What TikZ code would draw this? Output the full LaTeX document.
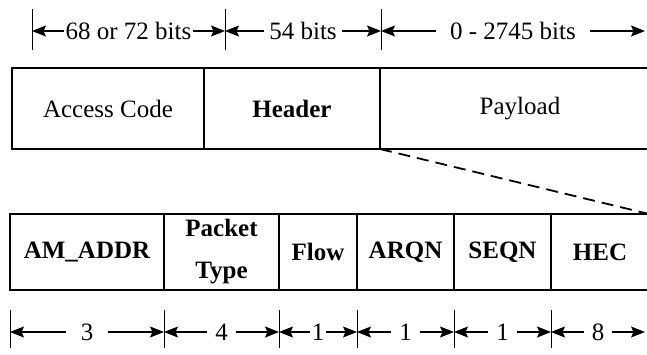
\documentclass[tikz,border=0pt]{standalone}
\usepackage{fontspec}
\setmainfont{Liberation Serif}
\usetikzlibrary{arrows.meta,positioning}
\newcommand{\pktfont}{\fontsize{25}{30}\selectfont}
\tikzset{
  field/.style={
    draw,
    line width=1.3pt,
    inner sep=0pt,
    outer sep=0pt,
    minimum height=81pt,
    align=center,
    font=\pktfont
  },
  bitfield/.style={
    field,
    minimum height=76pt,
    font=\pktfont\bfseries
  },
  dimline/.style={
    {Stealth[length=14pt,width=11pt,inset=2.5pt]}-{Stealth[length=14pt,width=11pt,inset=2.5pt]},
    line width=1.2pt
  },
  dimlabel/.style={
    fill=white,
    inner xsep=9pt,
    inner ysep=1pt,
    font=\pktfont
  },
  marker/.style={line width=1pt},
  zoomline/.style={dash pattern=on 12pt off 7pt, line width=1.8pt}
}

\begin{document}
\begin{tikzpicture}[x=1pt,y=-1pt]
\clip (0,0) rectangle (647,354);
% packet
\node[field,minimum width=192pt,anchor=north west] (acc) at (12,68) {Access Code};
\node[field,minimum width=176pt,right=0pt of acc,font=\pktfont\bfseries] (hdr) {Header};
\node[field,minimum width=280pt,right=0pt of hdr] (pay) {Payload};
% header fields
\node[bitfield,minimum width=154pt,anchor=north west] (am) at (10,214) {AM\_ADDR};
\node[bitfield,minimum width=115pt,right=0pt of am] (ptype) {Packet\\[12pt]Type};
\node[bitfield,minimum width=78pt,right=0pt of ptype] (flow) {Flow};
\node[bitfield,minimum width=97pt,right=0pt of flow] (arqn) {ARQN};
\node[bitfield,minimum width=97pt,right=0pt of arqn] (seqn) {SEQN};
\node[bitfield,minimum width=98pt,right=0pt of seqn] (hec) {HEC};
\draw[zoomline] (hdr.south east) -- (hec.north east);
% sizes of the packet
\foreach \x/\n in {32/a,225/b,381/c} {
  \coordinate (top\n) at (\x,31);
  \draw[marker] (\x,9) -- (\x,50);
}
\coordinate (topd) at (645,31);
\draw[dimline] (topa) -- node[dimlabel,inner xsep=2pt]{68 or 72 bits} (topb);
\draw[dimline] (topb) -- node[dimlabel,inner xsep=5pt]{54 bits} (topc);
\draw[dimline] (topc) -- node[dimlabel,inner xsep=14pt]{0 - 2745 bits} (topd);
% sizes of the header
\foreach \x/\n in {10/a,164/b,279/c,357/d,454/e,551/f} {
  \coordinate (bot\n) at (\x,332);
  \draw[marker] (\x,310) -- (\x,348);
}
\coordinate (botg) at (645,332);
\draw[dimline] (bota) -- node[dimlabel,inner xsep=15pt]{3} (botb);
\draw[dimline] (botb) -- node[dimlabel,inner xsep=8pt]{4} (botc);
\draw[dimline] (botc) -- node[dimlabel,inner xsep=2pt]{1} (botd);
\draw[dimline] (botd) -- node[dimlabel,inner xsep=8pt]{1} (bote);
\draw[dimline] (bote) -- node[dimlabel,inner xsep=8pt]{1} (botf);
\draw[dimline] (botf) -- node[dimlabel,inner xsep=8pt]{8} (botg);
\end{tikzpicture}
\end{document}
